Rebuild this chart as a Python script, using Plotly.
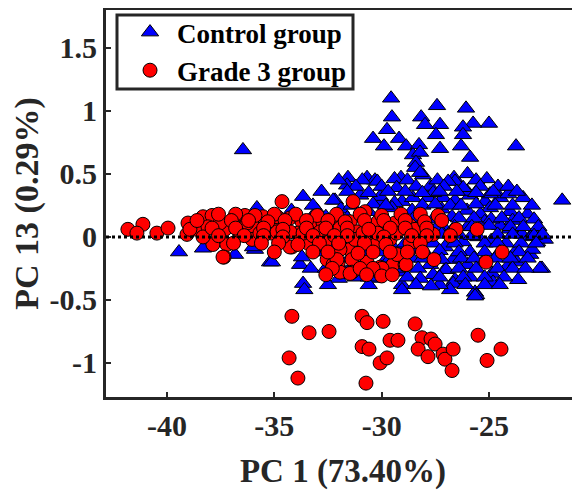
import plotly.graph_objects as go

# ---------------- data ----------------
control_x = [
    -29.56, -27.42, -26.07, -29.52, -28.16, -25.00, -25.74, -29.75, -27.28, -27.98,
    -26.21, -30.40, -29.19, -27.47, -26.21, -29.89, -28.86, -28.26, -27.28, -26.30,
    -23.74, -28.54, -25.88, -28.21, -28.40, -36.46, -28.44,
    -31.57, -30.68, -29.10, -28.07, -26.63, -26.58, -30.31, -31.61, -27.74, -24.58,
    -28.21, -26.00,
    -32.17, -29.98, -29.05, -28.54, -27.84, -27.14, -26.58, -25.88, -25.18, -24.48,
    -23.41, -21.59, -33.66, -32.26, -30.07, -26.02, -24.95, -24.10, -27.60, -29.40,
    -31.00,
    -29.52, -28.58, -26.02, -24.95, -24.02, -33.01, -35.81, -34.20, -30.60, -31.90,
    -27.20, -25.40, -23.20,
    -26.72, -24.48, -24.02, -23.46, -23.08, -22.76, -25.20, -23.90, -26.00, -27.00,
    -32.60, -30.00, -29.00, -31.60, -22.90,
    -26.21, -27.05, -25.88, -28.35, -29.05, -23.08, -23.69, -22.99, -32.87, -35.90,
    -38.32, -39.44, -35.99, -24.90, -25.50, -24.20, -30.50, -31.90, -33.50, -22.40,
    -27.80,
    -26.67, -22.53, -24.16, -27.74, -26.00, -36.83, -35.20, -33.80, -33.71, -35.11,
    -32.00, -29.90, -25.30, -23.70, -22.62, -28.60, -30.80,
    -24.86, -25.88, -27.05, -26.58, -23.64, -24.81, -30.17, -27.60, -29.20, -31.60,
    -25.65, -29.05, -33.66, -25.60, -26.67, -33.60, -29.05, -26.81, -25.65, -27.30,
    -30.30, -32.00,
    # dense core
    -32.0, -30.9, -30.2, -29.4, -28.8, -27.4, -26.9, -25.6, -25.1,
    -31.2, -30.0, -29.3, -28.4, -27.1, -26.2, -25.4, -24.1,
    -32.8, -31.6, -30.6, -29.7, -28.9, -28.1, -27.3, -26.5, -25.6, -24.8, -23.7,
    -33.2, -31.4, -30.4, -29.8, -28.1, -27.5, -26.8, -26.3, -25.6, -24.7, -23.9, -23.0,
    -31.1, -28.5, -27.6, -26.4, -25.7, -24.9, -24.4, -23.6, -22.9,
    -30.7, -27.4, -26.6, -25.8, -25.0, -24.0, -23.4, -22.7,
    -27.2, -26.4, -25.8, -24.6, -23.9, -22.9, -22.5,
    -32.4, -31.1, -29.6, -28.9, -28.4, -27.6, -26.6, -25.2, -24.6, -23.5, -22.8,
    -33.1, -30.8, -30.1, -28.0, -27.3, -26.4, -25.2, -24.5, -23.6,
    -31.5, -29.6, -28.1, -27.2, -26.3, -25.7, -24.7, -24.0, -23.2,
    -33.3, -32.6, -29.2, -28.3, -27.0, -26.4, -25.6, -24.6, -23.9, -23.3,
    -31.2, -30.6, -28.8, -28.2, -27.3, -26.2, -25.2, -24.3,
    -32.5, -30.6, -28.4, -27.7, -26.1, -25.2, -24.5,
]
control_y = [
    1.10, 1.04, 1.02, 0.95, 0.95, 0.90, 0.90, 0.85, 0.89, 0.89,
    0.87, 0.78, 0.78, 0.81, 0.81, 0.72, 0.72, 0.73, 0.70, 0.72,
    0.72, 0.65, 0.63, 0.67, 0.59, 0.69, 0.55,
    0.47, 0.47, 0.47, 0.49, 0.47, 0.44, 0.45, 0.41, 0.40, 0.40,
    0.51, 0.50,
    0.29, 0.28, 0.28, 0.31, 0.31, 0.31, 0.29, 0.33, 0.28, 0.31,
    0.31, 0.29, 0.32, 0.29, 0.32, 0.36, 0.34, 0.34, 0.35, 0.27,
    0.33,
    0.23, 0.21, 0.21, 0.23, 0.20, 0.21, 0.23, 0.21, 0.20, 0.22,
    0.22, 0.18, 0.18,
    0.16, 0.09, 0.06, 0.02, 0.00, -0.04, 0.12, 0.13, 0.08, 0.05,
    0.16, 0.18, 0.17, 0.15, 0.03,
    -0.04, -0.08, -0.12, -0.10, -0.10, -0.14, -0.10, -0.10, -0.09, -0.10,
    -0.09, -0.12, -0.08, -0.03, 0.00, -0.05, -0.08, -0.05, -0.02, -0.02,
    -0.02,
    -0.18, -0.25, -0.24, -0.22, -0.22, -0.14, -0.20, -0.22, -0.16, -0.20,
    -0.22, -0.20, -0.20, -0.20, -0.25, -0.17, -0.14,
    -0.29, -0.32, -0.26, -0.34, -0.34, -0.36, -0.30, -0.30, -0.28, -0.28,
    -0.44, -0.38, -0.37, -0.46, -0.37, -0.42, -0.42, -0.42, -0.47, -0.38,
    -0.33, -0.33,
    # dense core
    0.45, 0.45, 0.44, 0.46, 0.45, 0.45, 0.44, 0.45, 0.46,
    0.40, 0.40, 0.39, 0.40, 0.40, 0.39, 0.40, 0.40,
    0.36, 0.36, 0.35, 0.36, 0.36, 0.35, 0.36, 0.36, 0.35, 0.36, 0.36,
    0.25, 0.25, 0.26, 0.25, 0.25, 0.26, 0.25, 0.25, 0.26, 0.25, 0.25, 0.25,
    0.15, 0.15, 0.14, 0.15, 0.15, 0.14, 0.15, 0.15, 0.14,
    0.08, 0.08, 0.08, 0.08, 0.09, 0.08, 0.08, 0.08,
    0.02, 0.02, 0.01, 0.02, 0.02, 0.01, 0.02,
    -0.05, -0.05, -0.05, -0.05, -0.06, -0.05, -0.05, -0.05, -0.05, -0.05, -0.05,
    -0.12, -0.12, -0.12, -0.12, -0.11, -0.12, -0.12, -0.12, -0.12,
    -0.17, -0.17, -0.17, -0.18, -0.17, -0.17, -0.17, -0.17, -0.17,
    -0.25, -0.25, -0.25, -0.25, -0.26, -0.25, -0.25, -0.25, -0.25, -0.25,
    -0.32, -0.32, -0.32, -0.33, -0.32, -0.32, -0.32, -0.32,
    -0.38, -0.38, -0.38, -0.39, -0.38, -0.38, -0.38,
]

grade3_x = [
    -41.82, -41.12, -41.40, -40.47, -39.95, -39.02, -39.07, -38.60, -38.32, -37.90,
    -38.09, -37.86, -38.32, -37.30, -37.21, -37.34, -36.92, -36.37, -35.99, -36.60,
    -35.53, -34.97, -35.11, -34.64, -34.27, -34.18, -33.71, -33.90, -33.43, -33.20,
    -32.73, -32.54, -32.26, -32.40, -38.93, -37.53, -36.04, -35.67, -34.73, -36.27,
    -31.33, -30.77, -34.87, -31.47, -31.94, -31.15, -30.17, -29.38, -28.68, -29.70,
    -34.27, -32.64, -31.47, -31.94, -32.03, -31.38, -30.68, -30.07, -31.38, -31.94,
    -29.47, -28.91, -29.28, -30.21, -30.68, -31.24, -34.27, -33.66, -34.87, -32.87,
    -28.35, -28.44, -27.98, -27.60, -27.37, -26.53, -25.55, -24.39, -25.14, -27.56,
    -28.86, -31.47, -32.08, -28.68, -29.61, -30.87, -30.20, -29.30, -37.39, -29.98,
    -30.40, -31.00, -32.30,
    # dense band
    -37.6, -36.8, -35.9, -35.0, -34.0, -33.0, -32.1, -31.0, -30.0, -29.1, -28.2,
    -38.6, -37.0, -36.2, -35.3, -34.5, -33.5, -32.5, -31.7, -30.8, -29.9, -28.9, -28.0, -27.2,
    -37.9, -36.8, -35.5, -34.6, -33.5, -32.6, -31.6, -30.6, -29.6, -28.9, -27.9,
    -37.6, -36.4, -35.5, -34.6, -33.2, -32.2, -31.6, -29.9, -28.6, -27.9, -26.8,
    -36.9, -35.6, -34.8, -33.9, -32.9, -32.0, -30.8, -29.8, -28.2,
    -35.0, -33.2, -32.5, -31.1, -30.4, -29.6, -28.8, -28.1,
    -32.6, -30.7, -30.0, -29.5,
    # lower lobe
    -34.18, -33.38, -32.45, -30.91, -30.68, -29.93, -28.44, -25.51, -34.31, -33.90,
    -30.91, -30.59, -29.61, -29.24, -30.07, -29.75, -30.73, -28.12, -27.70, -27.51,
    -28.30, -27.84, -27.14, -27.05, -26.67, -26.72, -25.09, -24.44,
]
grade3_y = [
    0.06, 0.10, 0.03, 0.03, 0.07, 0.11, 0.02, 0.06, 0.16, 0.17,
    0.08, -0.06, 0.00, 0.06, -0.06, -0.16, 0.14, 0.17, 0.08, 0.02,
    0.16, 0.16, 0.03, 0.28, 0.15, -0.08, 0.12, 0.03, -0.05, 0.09,
    0.11, -0.18, -0.22, 0.12, 0.06, 0.11, -0.02, 0.03, 0.08, 0.11,
    0.28, 0.20, 0.16, 0.12, 0.07, 0.04, 0.12, 0.11, 0.09, 0.06,
    -0.08, -0.04, -0.10, -0.10, -0.21, -0.18, -0.20, -0.24, -0.28, -0.28,
    -0.22, -0.22, -0.14, -0.04, 0.02, -0.02, 0.04, 0.03, 0.04, 0.04,
    0.06, 0.06, 0.11, 0.02, 0.17, 0.06, 0.06, -0.12, -0.20, -0.18,
    -0.22, -0.29, -0.18, -0.05, -0.02, 0.03, 0.03, 0.03, -0.16, -0.25,
    -0.25, -0.25, -0.25,
    # dense band
    0.18, 0.18, 0.17, 0.18, 0.18, 0.17, 0.18, 0.18, 0.17, 0.18, 0.18,
    0.13, 0.13, 0.13, 0.12, 0.13, 0.13, 0.13, 0.12, 0.13, 0.13, 0.13, 0.12, 0.13,
    0.07, 0.07, 0.07, 0.06, 0.07, 0.07, 0.07, 0.06, 0.07, 0.07, 0.07,
    0.01, 0.01, 0.01, 0.00, 0.01, 0.01, 0.01, 0.00, 0.01, 0.01, 0.01,
    -0.05, -0.05, -0.05, -0.06, -0.05, -0.05, -0.05, -0.06, -0.05,
    -0.12, -0.12, -0.12, -0.13, -0.12, -0.12, -0.12, -0.12,
    -0.30, -0.30, -0.31, -0.30,
    # lower lobe
    -0.63, -0.76, -0.75, -0.63, -0.68, -0.67, -0.69, -0.78, -0.96, -1.12,
    -0.87, -0.89, -0.82, -0.82, -1.00, -0.96, -1.16, -0.80, -0.81, -0.85,
    -0.89, -0.95, -0.93, -0.97, -0.89, -1.06, -0.98, -0.89,
]

x_ticks = [-40, -35, -30, -25]
x_labels = ["-40", "-35", "-30", "-25"]
y_ticks = [-1, -0.5, 0, 0.5, 1, 1.5]
y_labels = ["-1", "-0.5", "0", "0.5", "1", "1.5"]

# ---------------- figure ----------------
FONT = "Liberation Serif, Times New Roman, serif"
INK = "#262626"

fig = go.Figure()
fig.add_trace(go.Scatter(
    x=control_x, y=control_y, mode="markers", name="Control group",
    marker=dict(symbol="triangle-up", size=15, color="#0000FF",
                line=dict(color="black", width=1)),
))
fig.add_trace(go.Scatter(
    x=grade3_x, y=grade3_y, mode="markers", name="Grade 3 group",
    marker=dict(symbol="circle", size=14, color="#FF0000",
                line=dict(color="black", width=1)),
))

# zero reference line (dotted, drawn over markers)
fig.add_shape(type="line", xref="paper", yref="y", x0=0, x1=1, y0=0, y1=0,
              line=dict(color="black", width=3, dash="dot"), layer="above")
# legend frame
fig.add_shape(type="rect", xref="paper", yref="paper",
              x0=0.0232, x1=0.5211, y0=0.7959, y1=0.9871,
              line=dict(color=INK, width=3), fillcolor="white", layer="above")

fig.update_layout(
    width=572, height=487,
    margin=dict(l=98, r=0, t=2, b=98),
    paper_bgcolor="white", plot_bgcolor="white",
    font=dict(family=FONT, color=INK, weight="bold"),
    showlegend=True,
    legend=dict(x=0.0359, y=1.005, xanchor="left", yanchor="top",
                bgcolor="rgba(0,0,0,0)", borderwidth=0,
                font=dict(family=FONT, size=27, color="black", weight="bold"),
                itemsizing="trace", itemwidth=44, tracegroupgap=0),
    xaxis=dict(range=[-42.84, -20.76], tickmode="array", tickvals=x_ticks,
               ticktext=x_labels, showgrid=False, zeroline=False, automargin=False,
               showline=True, linecolor=INK, linewidth=3, mirror=True,
               ticks="inside", ticklen=5, tickwidth=2, tickcolor=INK,
               tickfont=dict(size=30, family=FONT, weight="bold"),
               title=dict(text="PC 1 (73.40%)", standoff=18,
                          font=dict(size=33, family=FONT, weight="bold"))),
    yaxis=dict(range=[-1.27, 1.80], tickmode="array", tickvals=y_ticks,
               ticktext=y_labels, showgrid=False, zeroline=False, automargin=False,
               showline=True, linecolor=INK, linewidth=3, mirror=True,
               ticks="inside", ticklen=5, tickwidth=2, tickcolor=INK,
               tickfont=dict(size=30, family=FONT, weight="bold"),
               title=dict(text="PC 13 (0.29%)", standoff=1,
                          font=dict(size=34, family=FONT, weight="bold"))),
)

fig.write_html("out.html")
